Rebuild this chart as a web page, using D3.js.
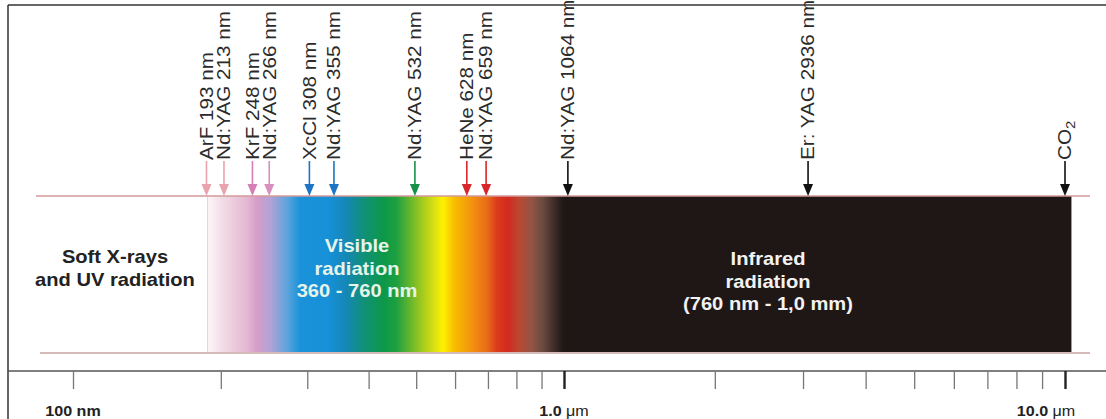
<!DOCTYPE html>
<html>
<head>
<meta charset="utf-8">
<script src="https://cdn.jsdelivr.net/npm/d3@7/dist/d3.min.js"></script>
<style>
  body { margin: 0; background: #fff; }
  svg { display: block; font-family: Arial, "Liberation Sans", sans-serif; }
</style>
</head>
<body>
<svg id="chart" width="1106" height="419"></svg>
<script>
// wavelength axis, nm
const tickValues = [100, 200, 300, 400, 500, 600, 700, 800, 900,
  1000, 2000, 3000, 4000, 5000, 6000, 7000, 8000, 9000, 10000];
const majorTicks = [1000, 10000];
const tickLabelAt = [100, 1000, 10000];
const tickLabelText = ['100 nm', '1.0', '10.0'];
const tickLabelUnit = ['', ' \u03bcm', ' \u03bcm'];

// laser lines: label + where the arrow sits on the axis (nm)
const laserLabels = ['ArF 193 nm', 'Nd:YAG 213 nm', 'KrF 248 nm', 'Nd:YAG 266 nm',
  'XcCl 308 nm', 'Nd:YAG 355 nm', 'Nd:YAG 532 nm', 'HeNe 628 nm', 'Nd:YAG 659 nm',
  'Nd:YAG 1064 nm', 'Er: YAG 2936 nm', 'CO'];
const laserAt = [187, 203, 232, 251, 303, 340, 497, 634, 694, 1018, 3070, 10000];
const laserColors = ['#e9a3ad', '#e9a3ad', '#d47fb6', '#d88fc0', '#1d74c4', '#1d74c4',
  '#17904a', '#d8262a', '#d8262a', '#111', '#111', '#111'];

// spectrum band (nm) and its colour stops
const bandFrom = 188;
const bandTo = 10300;
const spectrumNm = [188, 202, 226, 237, 252, 273, 290, 333, 360, 390, 430, 456,
  516, 548, 567, 595, 653, 700, 730, 770, 815, 860, 906, 960, 995, 1010];
const spectrumColors = ['#fdf7f9', '#f2dbe6', '#e4b8d2', '#d59dc8', '#b4a2d6', '#5ca4dc',
  '#1a92da', '#1690d6', '#1687b6', '#10907a', '#0d9848', '#1ea040', '#a6cb1c', '#dfe312',
  '#fff200', '#f8c000', '#f29010', '#e86818', '#dc3a1c', '#d22a20', '#b84a34', '#905444',
  '#6a4a40', '#3a2a28', '#201816', '#1e1715'];

const W = 1106, H = 419;
const bandTop = 196, bandBottom = 352, axisY = 371;
const svg = d3.select('#chart');

const x = d3.scaleLog().domain([100, 1000, 10000]).range([73, 564, 1065]);

// frame
svg.append('line').attr('x1', 8).attr('x2', W).attr('y1', 5).attr('y2', 5)
  .attr('stroke', '#333').attr('stroke-width', 1.5);
svg.append('line').attr('x1', 8).attr('x2', 8).attr('y1', 5).attr('y2', H)
  .attr('stroke', '#333').attr('stroke-width', 1.5);

// gradient
const grad = svg.append('defs').append('linearGradient')
  .attr('id', 'spec').attr('gradientUnits', 'userSpaceOnUse')
  .attr('x1', x(bandFrom)).attr('x2', x(bandTo)).attr('y1', 0).attr('y2', 0);
const span = x(bandTo) - x(bandFrom);
grad.selectAll('stop').data(spectrumNm).join('stop')
  .attr('offset', d => (x(d) - x(bandFrom)) / span)
  .attr('stop-color', (d, i) => spectrumColors[i]);

svg.append('rect')
  .attr('x', x(bandFrom)).attr('y', bandTop)
  .attr('width', span).attr('height', bandBottom - bandTop)
  .attr('fill', 'url(#spec)');
svg.append('line').attr('x1', x(bandFrom)).attr('x2', x(bandFrom))
  .attr('y1', bandTop).attr('y2', bandBottom).attr('stroke', '#d8d8d8');

svg.append('line').attr('x1', 36).attr('x2', 1090).attr('y1', bandTop).attr('y2', bandTop)
  .attr('stroke', '#d49a9a').attr('stroke-width', 1.3);
svg.append('line').attr('x1', 40).attr('x2', 1090).attr('y1', bandBottom + 1).attr('y2', bandBottom + 1)
  .attr('stroke', '#c9a3a3').attr('stroke-width', 1.3);

// region captions
function caption(lines, cx, y0, color) {
  const g = svg.append('g');
  lines.forEach((t, i) => {
    g.append('text')
      .attr('transform', `translate(${cx},${y0 + i * 22.5}) scale(1.15,1)`)
      .attr('text-anchor', 'middle')
      .attr('font-size', 17.5).attr('font-weight', 'bold')
      .attr('fill', color).text(t);
  });
}
caption(['Soft X-rays', 'and UV radiation'], 115, 263, '#222');
caption(['Visible', 'radiation', '360 - 760 nm'], 357, 252, '#e6f4ea');
caption(['Infrared', 'radiation', '(760 nm - 1,0 mm)'], 768, 265, '#f2f2f2');

// laser arrows
const arrows = svg.append('g').selectAll('g').data(laserAt).join('g')
  .attr('transform', d => `translate(${x(d)},0)`);
arrows.append('line')
  .attr('y1', 161).attr('y2', 187)
  .attr('stroke', (d, i) => laserColors[i]).attr('stroke-width', 1.6);
arrows.append('path')
  .attr('d', `M-5,${bandTop - 12}L5,${bandTop - 12}L0,${bandTop}Z`)
  .attr('fill', (d, i) => laserColors[i]);

const labels = arrows.append('text')
  .attr('transform', 'translate(0,160) rotate(-90) scale(1.15,1)')
  .attr('dy', '0.35em')
  .attr('font-size', 18)
  .attr('fill', '#2b2b2b')
  .text((d, i) => laserLabels[i]);
labels.filter((d, i) => i === laserLabels.length - 1)
  .append('tspan').attr('dy', '0.3em').attr('font-size', 13).text('2');

// axis
svg.append('line').attr('x1', 8).attr('x2', W).attr('y1', axisY).attr('y2', axisY)
  .attr('stroke', '#555').attr('stroke-width', 1.5);
const axis = d3.axisBottom(x).tickValues(tickValues).tickSize(18).tickFormat('');
const axisG = svg.append('g').attr('transform', `translate(0,${axisY})`).call(axis);
axisG.select('.domain').remove();
axisG.selectAll('.tick line')
  .attr('stroke', d => majorTicks.includes(d) ? '#222' : '#777')
  .attr('stroke-width', d => majorTicks.includes(d) ? 2.4 : 1.3);

const tl = svg.append('g').selectAll('text').data(tickLabelAt).join('text')
  .attr('transform', d => `translate(${Math.min(x(d), W - 60)},416) scale(1.15,1)`)
  .attr('text-anchor', 'middle')
  .attr('font-size', 14).attr('font-weight', 'bold').attr('fill', '#222');
tl.append('tspan').text((d, i) => tickLabelText[i]);
tl.append('tspan').attr('font-weight', 'normal').text((d, i) => tickLabelUnit[i]);
</script>
</body>
</html>
